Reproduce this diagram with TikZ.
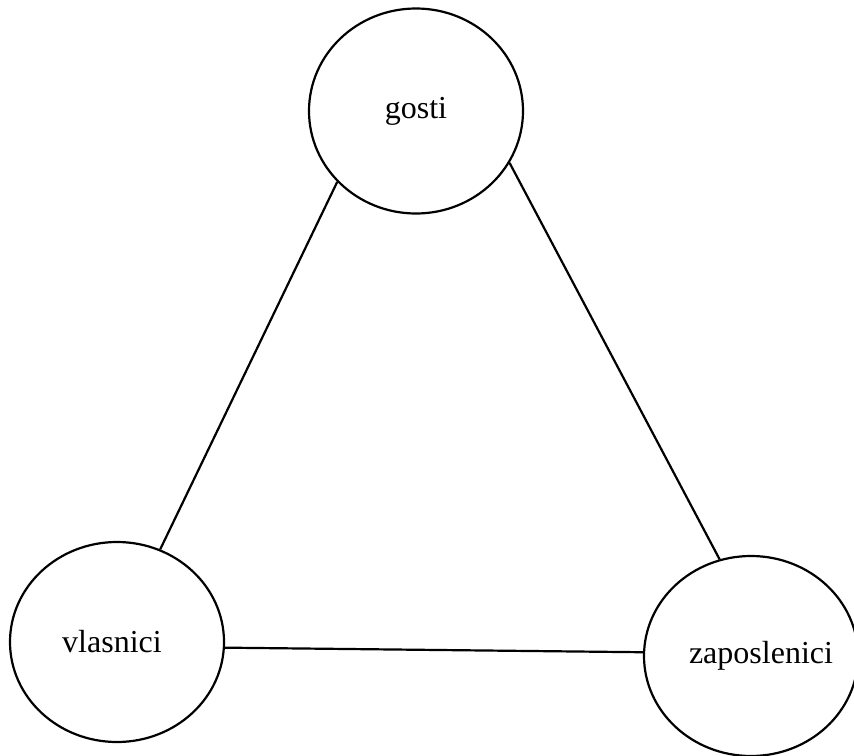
\documentclass[tikz,border=0pt]{standalone}
\usepackage{fontspec}
\setmainfont{Liberation Serif}
\usetikzlibrary{shapes.geometric}
\begin{document}
\begin{tikzpicture}[x=1pt,y=-1pt,
  entity/.style={draw=black, line width=2.2pt, ellipse, inner sep=0pt,
    minimum width=214pt, minimum height=204pt,
    font=\fontsize{32}{36}\selectfont},
  link/.style={draw=black, line width=2.2pt}]
\useasboundingbox (0,0) rectangle (854,755);
\node[entity, minimum height=205pt] (g) at (416,111) {gosti};
\node[entity, minimum height=200pt] (v) at (117,642) {\makebox[0pt]{vlasnici\hspace*{10pt}}};
\node[entity, minimum height=200pt] (z) at (751,656) {\makebox[0pt]{\hspace*{20pt}zaposlenici}};
\draw[link] (g.222) -- (v.65);
\draw[link] (g.331) -- (z.108);
\draw[link] (v.357) -- (z.178);
\end{tikzpicture}
\end{document}
